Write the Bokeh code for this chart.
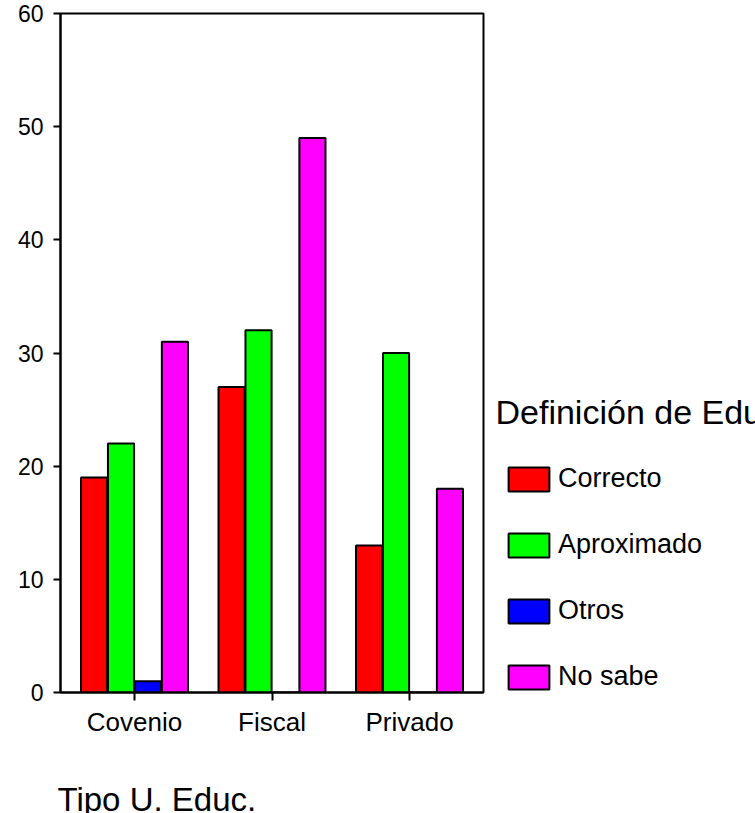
from bokeh.plotting import figure
from bokeh.layouts import column, row
from bokeh.models import (FactorRange, FixedTicker, Label, Legend, LegendItem,
                          ColumnDataSource, Range1d)
from bokeh.transform import dodge
from bokeh.embed import file_html
from bokeh.resources import INLINE

categories = ["Covenio", "Fiscal", "Privado"]
series_names = ["Correcto", "Aproximado", "Otros", "No sabe"]
correcto = [19, 27, 13]
aproximado = [22, 32, 30]
otros = [1, 0, 0]
no_sabe = [31, 49, 18]
colors = ["#FF0000", "#00FF00", "#0000FF", "#FF00FF"]
y_ticks = [0, 10, 20, 30, 40, 50, 60]
x_title = "Tipo U. Educ."
legend_title = "Definición de Educación"

FONT = "Liberation Sans"
TOP_H = 740
B_TOP, B_BOT = 13, 48

src = ColumnDataSource(dict(cat=categories, s0=correcto, s1=aproximado,
                            s2=otros, s3=no_sabe))
offsets = [-0.294, -0.098, 0.098, 0.294]

# ---- main chart ----
p = figure(width=485, height=TOP_H, output_backend="svg", toolbar_location=None,
           x_range=FactorRange(factors=categories, range_padding=0.0253),
           y_range=Range1d(0, 60),
           min_border_left=60, min_border_right=2, min_border_top=B_TOP,
           min_border_bottom=B_BOT)

for i, col in enumerate(colors):
    p.vbar(x=dodge("cat", offsets[i], range=p.x_range), top="s%d" % i,
           width=0.19, source=src, fill_color=col, line_color="black",
           line_width=2)

p.xgrid.grid_line_color = None
p.ygrid.grid_line_color = None
p.outline_line_color = "black"
p.outline_line_width = 2
p.border_fill_color = "white"

p.yaxis.ticker = FixedTicker(ticks=y_ticks)
p.yaxis.minor_tick_line_color = None
p.yaxis.major_tick_out = 7
p.yaxis.major_tick_in = 0
p.yaxis.major_tick_line_width = 2
p.yaxis.axis_line_width = 2
p.yaxis.major_label_standoff = 10
p.yaxis.major_label_text_font = FONT
p.yaxis.major_label_text_font_size = "23px"
p.yaxis.major_label_text_color = "black"

p.xaxis.major_tick_out = 8
p.xaxis.major_tick_in = 0
p.xaxis.major_tick_line_width = 2
p.xaxis.axis_line_width = 2
p.xaxis.major_label_standoff = 6
p.xaxis.major_label_text_font = FONT
p.xaxis.major_label_text_font_size = "26px"
p.xaxis.major_label_text_color = "black"

# ---- legend panel (right); frame aligned with the chart's frame ----
lg = figure(width=270, height=TOP_H, output_backend="svg", toolbar_location=None,
            x_range=FactorRange(factors=categories), y_range=Range1d(0, 60),
            min_border_left=0, min_border_right=0, min_border_top=B_TOP,
            min_border_bottom=B_BOT, x_axis_location=None, y_axis_location=None)
lg.outline_line_color = None
lg.xgrid.grid_line_color = None
lg.ygrid.grid_line_color = None
items = []
for i, (name, col) in enumerate(zip(series_names, colors)):
    r = lg.vbar(x=dodge("cat", offsets[i], range=lg.x_range), top="s%d" % i,
                width=0.19, source=src, fill_color=col,
                line_color="black", line_width=2, visible=False)
    items.append(LegendItem(label=name, renderers=[r]))

legend = Legend(items=items, location=(18, 0), glyph_width=51, glyph_height=30,
                label_height=30, spacing=35, label_standoff=4, padding=0,
                margin=0, border_line_color=None, background_fill_alpha=0,
                inactive_fill_alpha=0,
                label_text_font=FONT, label_text_font_size="27px",
                label_text_color="black")
lg.add_layout(legend, "center")
lg.add_layout(Label(x=10, y=281, x_units="screen", y_units="screen",
                    text=legend_title, text_font=FONT, text_font_size="34px",
                    text_baseline="alphabetic", text_color="black"))

# ---- x title panel (below) ----
bt = figure(width=755, height=73, output_backend="svg", toolbar_location=None,
            x_range=Range1d(0, 1), y_range=Range1d(0, 1), min_border=0,
            x_axis_location=None, y_axis_location=None)
bt.outline_line_color = None
bt.xgrid.grid_line_color = None
bt.ygrid.grid_line_color = None
bt.add_layout(Label(x=57, y=14, x_units="screen", y_units="screen",
                    text=x_title, text_font=FONT, text_font_size="33px",
                    text_baseline="alphabetic", text_color="black"))

layout = column(row(p, lg, spacing=0), bt, spacing=0)

open("out.html", "w").write(file_html(layout, INLINE))
